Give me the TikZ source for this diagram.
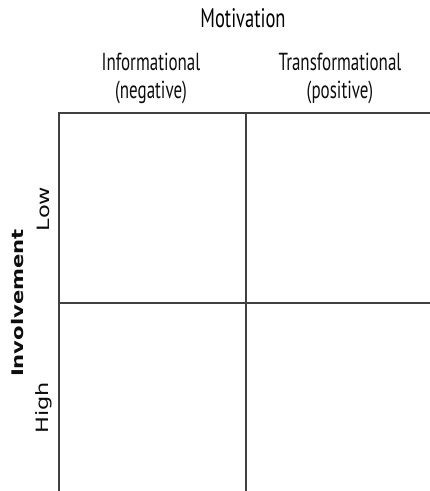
\documentclass[tikz,border=0pt]{standalone}
\usepackage{fontspec}
\usepackage{graphicx}
\setmainfont{PT Sans}
\newfontfamily\sidefont{DejaVu Sans}
\usetikzlibrary{positioning}

% stretched labels (headers tall, side labels long)
\newcommand{\tallhead}[1]{\scalebox{1}[1.45]{\begin{tabular}{@{}c@{}}#1\end{tabular}}}
\newcommand{\longside}[1]{\scalebox{1.32}[1]{#1}}

\begin{document}
\begin{tikzpicture}[x=1pt, y=-1pt,
        gridline/.style={draw=black!75, line width=1.2pt},
        head/.style={font=\fontsize{17}{19}\selectfont, text=black!95, inner sep=0pt},
        axishead/.style={font=\fontsize{18.5}{21}\selectfont, text=black, inner sep=0pt},
        side/.style={font=\sidefont\fontsize{17}{20}\selectfont, text=black!95, rotate=90, inner sep=0pt},
        axisside/.style={font=\sidefont\bfseries\fontsize{16}{19}\selectfont, text=black!95, rotate=90, inner sep=0pt}
    ]
        \useasboundingbox (0,0) rectangle (430,491);

        % column headers
        \node[axishead] (motivation) at (243,21) {\tallhead{Motivation}};
        \node[head] (info) at (151,79) {\tallhead{Informational\\(negative)}};
        \node[head] (trans) at (340,79) {\tallhead{Transformational\\(positive)}};

        % row headers
        \node[axisside] (involvement) at (18,303) {\longside{Involvement}};
        \node[side] (low) at (43,209) {\longside{Low}};
        \node[side] (high) at (44,408) {\longside{High}};

        % the 2x2 grid, open to the right and at the bottom
        \draw[gridline] (430,113) -- (59,113) -- (59,491);
        \draw[gridline] (246,113) -- (246,491);
        \draw[gridline] (59,303) -- (430,303);
    \end{tikzpicture}
\end{document}
